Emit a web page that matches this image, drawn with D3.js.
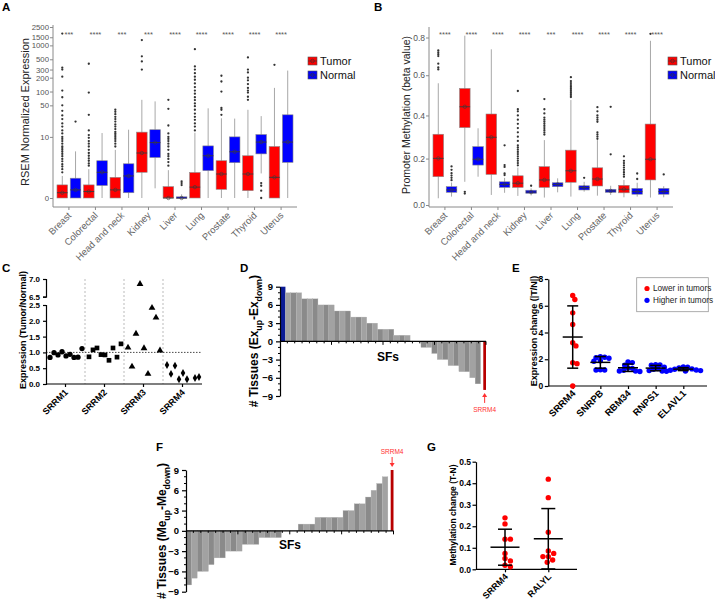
<!DOCTYPE html>
<html><head><meta charset="utf-8">
<script src="https://cdn.jsdelivr.net/npm/d3@7"></script>
<style>html,body{margin:0;padding:0;background:#fff}</style>
</head><body>
<script>
// ================= DATA =================
const tissues = ["Breast","Colorectal","Head and neck","Kidney","Liver","Lung","Prostate","Thyroid","Uterus"];
const boxGroups = ["Tumor","Normal"];

// Panel A  (RSEM expression)  [lower whisker, Q1, median, Q3, upper whisker]
const exprTumor = [
 [0,0,0.15,0.46,1.0],[0,0,0.19,0.46,1.6],[0,0,0.25,0.9,5],[0,1.3,4.2,12.8,66],[0,0,0,0.38,1.5],
 [0,0,0.36,1.28,12.4],[0,0.27,1.15,2.7,26],[0,0.22,1.15,3.6,40],[0,0,0.9,6.0,120]];
const exprNormal = [
 [0,0,0.25,0.84,4.6],[0,0.43,1.3,2.7,12.2],[0,0.15,1.0,2.25,14.5],[0.31,3.25,7.4,14.5,61],[0,0,0,0.03,0.1],
 [0,1.45,3.6,6.2,43],[0,2.4,4.5,10,25.6],[1.2,4.0,7.6,11.3,29],[0,2.45,7.6,31,285]];
const exprTumorOut = [
 [1.3,1.6,1.9,2.2,2.6,3,3.5,4,4.5,5,5.5,6,7,8,9,10,12,14,17,20,25,30,38,50,75,105,210,300,330,1800],
 [2,2.3,2.7,3.1,3.6,4.2,5,6,7,8,9.5,11,14,31,95,400],
 [6,7,8,9,10,11,12,13,15,17,19,22,25,28,32,36,40],
 [300,450,580,1300],
 [2,2.5,3,3.5,4,5,6,7,8,9,10,12,18,42,66],
 [14,17,20,24,28,33,40,48,55,65,75,90,105,125,150,180,210,250,300,350,830],
 [31,40,44,100,165,220],
 [66,77,95,105,120,145,175,200,260,300,550],
 [380]];
const exprNormalOut = [[22],[],[],[],[0.45,0.55,0.65],[],[],[0,0.22,0.42,0.55],[]];
const exprStars = ["***","****","***","***","****","****","****","****","****"];
const exprTicks = [0,10,50,100,200,300,500,1000,1500,2500];

// Panel B  (promoter methylation, beta value)
const methTumor = [
 [0.028,0.12,0.201,0.311,0.559],[0.098,0.342,0.442,0.533,0.81],[0.042,0.13,0.297,0.407,0.736],
 [0.038,0.074,0.092,0.124,0.16],[0.031,0.074,0.106,0.164,0.284],[0.035,0.096,0.146,0.238,0.475],
 [0.039,0.08,0.11,0.159,0.284],[0.032,0.051,0.066,0.083,0.106],[0.031,0.106,0.197,0.359,0.782]];
const methNormal = [
 [0.035,0.053,0.063,0.077,0.095],[0.12,0.171,0.197,0.254,0.339],[0.051,0.074,0.087,0.098,0.115],
 [0.04,0.049,0.054,0.062,0.07],[0.053,0.077,0.087,0.094,0.113],[0.056,0.063,0.073,0.081,0.098],
 [0.042,0.053,0.059,0.066,0.081],[0.035,0.045,0.056,0.07,0.094],[0.032,0.045,0.056,0.07,0.079]];
const methTumorOut = [
 [0.63,0.64,0.66,0.70,0.71,0.72,0.73],[0.048,0.055],[],
 [0.17,0.18,0.19,0.2,0.21,0.22,0.23,0.24,0.25,0.26,0.28,0.3,0.32,0.34,0.36,0.38,0.4,0.42,0.43,0.52],
 [0.31,0.32,0.33,0.34,0.35,0.36,0.37,0.38,0.39,0.41,0.43,0.48],
 [0.49,0.5,0.51,0.52,0.53,0.54,0.55,0.56,0.57,0.59],
 [0.29,0.3,0.31,0.32,0.37,0.38,0.39,0.4,0.42,0.44],
 [0.12,0.13,0.14,0.15,0.16,0.17,0.18,0.19,0.21],[0.82]];
const methNormalOut = [[0.105,0.115,0.125,0.135,0.15,0.165],[],[0.127,0.134,0.163,0.171,0.26],[0.081],[],[0.115],[0.219,0.442],[0.11,0.134],[0.13]];
const methStars = ["****","****","****","****","***","****","****","****","****"];
const methTicks = [0,0.2,0.4,0.6,0.8];

// Panel C  (Tumor/Normal ratio)
const srGenes = ["SRRM1","SRRM2","SRRM3","SRRM4"];
const srrm1 = [0.84,0.99,0.92,1.02,0.89,0.94,0.84,0.85,1.12];
const srrm2 = [0.86,1.08,1.14,0.93,0.92,0.75,1.14,0.85,1.27];
const srrm3 = [1.15,0.55,1.59,6.86,1.13,0.32,2.41,2.1,1.06];
const srrm4 = [0.6,0.32,0.58,0.15,0.35,0.15,null,0.19,0.22];
const cTicksLow = [0,0.5,1.0,1.5,2.0,2.5];
const cTicksHigh = [6.5,7.0];

// Panel D  (# tissues Ex_up - Ex_down per splicing factor, sorted)
const exprSF = [9,8,8,8,7,7,7,6,6,6,5,5,5,4,4,4,3,3,2,2,2,1,1,1,0,0,-1,-1,-2,-3,-3,-4,-4,-5,-5,-6,-7,-8];
// Panel F  (# tissues Me_up - Me_down per splicing factor, sorted)
const methSF = [-8,-7,-6,-6,-5,-4,-4,-3,-3,-3,-2,-2,-2,-1,-1,-1,-1,0,0,0,1,1,1,2,2,2,2,2,3,3,4,4,5,6,7,8,9];
const sfTicks = [-9,-6,-3,0,3,6,9];

// Panel E  (expression change |T/N|)
const eGenes = ["SRRM4","SNRPB","RBM34","RNPS1","ELAVL1"];
const eValues = [
 [6.77,6.47,5.47,4.6,3.0,3.23,1.74,1.67,0],
 [2.12,2.08,2.15,2.2,1.85,1.88,1.2,1.2,1.22],
 [1.75,1.8,1.55,1.35,1.32,1.12,1.08,1.12,1.18],
 [1.58,1.6,1.55,1.4,1.3,1.25,1.15,1.1,1.12],
 [1.42,1.4,1.35,1.28,1.25,1.2,1.15,1.12,1.18]];
const eLegend = ["Lower in tumors","Higher in tumors"];
const eTicks = [0,2,4,6,8];

// Panel G  (methylation change T-N)
const gGenes = ["SRRM4","RALYL"];
const gValues = [
 [0.239,0.211,0.14,0.14,0.074,0.05,0.039,0.019,0.012],
 [0.419,0.333,0.172,0.085,0.074,0.059,0.059,0.043,0.033]];
const gTicks = [0,0.1,0.2,0.3,0.4,0.5];

// ================= DRAWING =================
const FONT = "'Liberation Sans', Arial, Helvetica, sans-serif";
const svg = d3.select("body").append("svg").attr("width",715).attr("height",600)
  .attr("font-family",FONT).style("display","block");

function panelLabel(t,x,y){
  svg.append("text").attr("x",x).attr("y",y).attr("font-size",11.5).attr("font-weight","bold").attr("fill","#000").text(t);
}
function yTitle(parent,x,y,size,bold,parts,color){
  const t = parent.append("text").attr("transform",`translate(${x},${y}) rotate(-90)`)
    .attr("text-anchor","middle").attr("dy","0.35em").attr("font-size",size)
    .attr("font-weight",bold?"bold":"normal").attr("fill",color||"#000");
  let prevSub=false;
  parts.forEach(p=>{
    const ts = t.append("tspan").text(p.t);
    if(p.sub){ ts.attr("font-size",size*0.72); if(!prevSub) ts.attr("dy",size*0.28); }
    else if(prevSub) ts.attr("dy",-size*0.28);
    prevSub=!!p.sub;
  });
}
function rotLabels(sel,dx,dy){
  sel.selectAll("text").attr("x",0).attr("y",0).attr("dy",0)
    .attr("transform",`translate(${dx},${dy}) rotate(-45)`).attr("text-anchor","end");
}

// ---------- A & B : box plots ----------
function boxPanel(cfg){
  const g = svg.append("g");
  const tf = cfg.tf;
  const ylin = d3.scaleLinear().domain([tf(cfg.ticks[0]), tf(cfg.ticks[cfg.ticks.length-1])]).range(cfg.yRange);
  const y = v => ylin(tf(v));
  const x = d3.scaleBand().domain(tissues).range([cfg.x0,cfg.x1]).paddingInner(0).paddingOuter(0.1);
  const st = x.step(), bw = st*0.4;
  const grp = d3.scaleBand().domain(boxGroups).range([-st/2, st/2]);
  const col = d3.scaleOrdinal().domain(boxGroups).range(["#ff0000","#0000ff"]);
  const rows = [];
  boxGroups.forEach((gr,gi)=>tissues.forEach((t,i)=>rows.push({gr,t,s:cfg.stats[gi][i],out:cfg.outs[gi][i]})));
  const cx = d => x(d.t)+st/2+grp(d.gr)+grp.bandwidth()/2;

  g.append("line").attr("x1",cfg.x0).attr("x2",cfg.x0).attr("y1",cfg.yTop).attr("y2",cfg.yBot).attr("stroke","#8a8a8a");
  g.append("line").attr("x1",cfg.x0).attr("x2",cfg.x1).attr("y1",cfg.yBot).attr("y2",cfg.yBot).attr("stroke","#8a8a8a");
  const ay = g.append("g").attr("transform",`translate(${cfg.x0},0)`)
    .call(d3.axisLeft(ylin).tickValues(cfg.ticks.map(tf)).tickFormat((d,i)=>cfg.fmt(cfg.ticks[i])).tickSize(3).tickSizeOuter(0));
  ay.select(".domain").remove();
  ay.selectAll("line").attr("stroke","#8a8a8a");
  ay.selectAll("text").attr("fill","#555").attr("font-size",cfg.yTickSize).attr("font-family",FONT).attr("x",-4);
  const ax = g.append("g").attr("transform",`translate(0,${cfg.yBot})`)
    .call(d3.axisBottom(x).tickSize(3).tickSizeOuter(0));
  ax.select(".domain").remove();
  ax.selectAll("line").attr("stroke","#8a8a8a");
  ax.selectAll("text").attr("fill","#666").attr("font-size",9.5).attr("font-family",FONT);
  rotLabels(ax,3,9);

  g.selectAll(".wh").data(rows).join("line").attr("class","wh")
    .attr("x1",cx).attr("x2",cx).attr("y1",d=>y(d.s[0])).attr("y2",d=>y(d.s[4]))
    .attr("stroke","#a8a8a8").attr("stroke-width",1);
  g.selectAll(".bx").data(rows).join("rect").attr("class","bx")
    .attr("x",d=>cx(d)-bw/2).attr("width",bw)
    .attr("y",d=>y(d.s[3])).attr("height",d=>Math.max(1.5,y(d.s[1])-y(d.s[3])))
    .attr("fill",d=>col(d.gr)).attr("stroke","#8c8c8c").attr("stroke-width",0.6);
  g.selectAll(".md").data(rows).join("line").attr("class","md")
    .attr("x1",d=>cx(d)-bw/2).attr("x2",d=>cx(d)+bw/2).attr("y1",d=>y(d.s[2])).attr("y2",d=>y(d.s[2]))
    .attr("stroke","#3a3a3a").attr("stroke-width",0.9);
  g.selectAll(".mc").data(rows).join("circle").attr("class","mc")
    .attr("cx",cx).attr("cy",d=>y(d.s[2])).attr("r",1.7)
    .attr("fill","none").attr("stroke","#3a3a3a").attr("stroke-width",0.6);
  const outs = rows.flatMap(d=>d.out.map(v=>({x:cx(d),v})));
  g.selectAll(".ol").data(outs).join("circle").attr("class","ol")
    .attr("cx",d=>d.x).attr("cy",d=>y(d.v)).attr("r",1.15).attr("fill","#333");
  g.selectAll(".st").data(tissues).join("text").attr("class","st")
    .attr("x",d=>x(d)+st/2).attr("y",cfg.starY).attr("text-anchor","middle")
    .attr("font-size",7.5).attr("fill","#555").text((d,i)=>cfg.stars[i]);
  yTitle(g,cfg.titleX,cfg.titleY,cfg.titleSize,false,[{t:cfg.title}],"#222");
  const lg = g.selectAll(".lg").data(boxGroups).join("g").attr("class","lg")
    .attr("transform",(d,i)=>`translate(${cfg.legX},${cfg.legY+i*14})`);
  lg.append("rect").attr("x",0).attr("y",-4).attr("width",9).attr("height",8).attr("fill",d=>col(d)).attr("stroke","#555").attr("stroke-width",0.6);
  lg.append("line").attr("x1",0).attr("x2",9).attr("y1",0).attr("y2",0).attr("stroke","#333").attr("stroke-width",0.6);
  lg.append("circle").attr("cx",4.5).attr("cy",0).attr("r",1.8).attr("fill","none").attr("stroke","#333").attr("stroke-width",0.6);
  lg.append("text").attr("x",12).attr("y",0).attr("dy","0.36em").attr("font-size",11).attr("fill","#111").text(d=>d);
}

boxPanel({x0:53,x1:297,yTop:25,yBot:207,yRange:[198,27],tf:v=>Math.log10(v+0.5),yTickSize:7.8,
  ticks:exprTicks,fmt:d=>String(d),stats:[exprTumor,exprNormal],outs:[exprTumorOut,exprNormalOut],
  stars:exprStars,starY:37,title:"RSEM Normalized Expression",titleX:25,titleY:112,titleSize:11,
  legX:308,legY:61});
boxPanel({x0:429,x1:673,yTop:27,yBot:207,yRange:[205,37.5],tf:v=>Math.log(v+2.5),yTickSize:8.5,
  ticks:methTicks,fmt:d3.format(".1f"),stats:[methTumor,methNormal],outs:[methTumorOut,methNormalOut],
  stars:methStars,starY:37,title:"Promoter Methylation (beta value)",titleX:406,titleY:115,titleSize:10.5,
  legX:668,legY:61});
panelLabel("A",2,11);
panelLabel("B",374,11);

// ---------- C ----------
(function(){
  const g = svg.append("g");
  const x0=46,x1=202,yb=384;
  const xC = d3.scaleBand().domain(srGenes).range([x0,x1]);
  const slot = d3.scalePoint().domain(d3.range(9)).range([4,36]);
  const yL = d3.scaleLinear().domain([0,2.5]).range([384,305]);
  const yU = d3.scaleLinear().domain([6.5,7.0]).range([296.7,279]);
  const yC = v => v<=2.5 ? yL(v) : yU(v);
  const sym = d3.scaleOrdinal().domain(srGenes).range([d3.symbolCircle,d3.symbolSquare,d3.symbolTriangle,d3.symbolDiamond]);
  const symSize = d3.scaleOrdinal().domain(srGenes).range([22,22,20,18]);
  g.selectAll(".dv").data(srGenes.slice(1)).join("line").attr("class","dv")
    .attr("x1",d=>xC(d)).attr("x2",d=>xC(d)).attr("y1",279).attr("y2",yb)
    .attr("stroke","#aaa").attr("stroke-width",0.8).attr("stroke-dasharray","2,2");
  g.append("line").attr("x1",x0).attr("x2",x1).attr("y1",yL(1)).attr("y2",yL(1))
    .attr("stroke","#333").attr("stroke-width",0.9).attr("stroke-dasharray","1.5,1.5");
  const a1 = g.append("g").attr("transform",`translate(${x0},0)`)
    .call(d3.axisLeft(yL).tickValues(cTicksLow).tickFormat(d3.format(".1f")).tickSize(3).tickSizeOuter(3));
  const a2 = g.append("g").attr("transform",`translate(${x0},0)`)
    .call(d3.axisLeft(yU).tickValues(cTicksHigh).tickFormat(d3.format(".1f")).tickSize(3).tickSizeOuter(3));
  [a1,a2].forEach(a=>{a.select(".domain").attr("stroke","#000").attr("stroke-width",1.2);
    a.selectAll("line").attr("stroke","#000").attr("stroke-width",1.2);
    a.selectAll("text").attr("font-size",8).attr("font-weight","bold").attr("font-family",FONT).attr("fill","#000");});
  g.append("line").attr("x1",x0).attr("x2",x1).attr("y1",yb).attr("y2",yb).attr("stroke","#000").attr("stroke-width",1.2);
  const ax = g.append("g").attr("transform",`translate(0,${yb})`).call(d3.axisBottom(xC).tickSize(3).tickSizeOuter(0));
  ax.select(".domain").remove();
  ax.selectAll("line").attr("stroke","#000").attr("stroke-width",1.2);
  ax.selectAll("text").attr("font-size",9).attr("font-weight","bold").attr("font-family",FONT).attr("fill","#000");
  rotLabels(ax,3,9);
  const series = [srrm1,srrm2,srrm3,srrm4];
  const pts = srGenes.flatMap((gn,gi)=>series[gi].map((v,j)=>({gn,j,v})).filter(d=>d.v!==null));
  g.selectAll(".pt").data(pts).join("path").attr("class","pt")
    .attr("transform",d=>`translate(${xC(d.gn)+slot(d.j)},${yC(d.v)})`)
    .attr("d",d=>d3.symbol().type(sym(d.gn)).size(symSize(d.gn))())
    .attr("fill","#000");
  yTitle(g,22.5,330,9,true,[{t:"Expression (Tumor/Normal)"}]);
})();
panelLabel("C",2,272);

// ---------- D & F : sorted bar charts ----------
function sfPanel(cfg){
  const g = svg.append("g");
  const y = d3.scaleLinear().domain([-9,9]).range([cfg.yBot,cfg.yTop]);
  const x = d3.scaleBand().domain(d3.range(cfg.vals.length)).range([cfg.x0,cfg.x1]).padding(0);
  const bwid = i => i===cfg.redIdx ? x.bandwidth()*0.5 : x.bandwidth();
  const bx = i => i===cfg.redIdx ? x(i)+x.bandwidth()*0.5 : x(i);
  const fill = (d,i)=> i===cfg.blueIdx ? "#0a1a96" : (i===cfg.redIdx ? "#b80000" : (i%2 ? "#a2a2a2" : "#8a8a8a"));
  g.selectAll(".b").data(cfg.vals).join("rect").attr("class","b")
    .attr("x",(d,i)=>bx(i)).attr("width",(d,i)=>bwid(i))
    .attr("y",d=>y(Math.max(0,d))).attr("height",d=>Math.abs(y(d)-y(0)))
    .attr("fill",fill).attr("stroke",(d,i)=>(i===cfg.redIdx||i===cfg.blueIdx)?"none":"#b4b4b4").attr("stroke-width",0.3);
  const ay = g.append("g").attr("transform",`translate(${cfg.x0},0)`)
    .call(d3.axisLeft(y).tickValues(sfTicks).tickSize(4).tickSizeOuter(0));
  ay.select(".domain").attr("stroke","#000").attr("stroke-width",1.2);
  ay.selectAll("line").attr("stroke","#000").attr("stroke-width",1.2);
  ay.selectAll("text").attr("font-size",9.5).attr("font-weight","bold").attr("font-family",FONT).attr("fill","#000");
  const minor = d3.range(-9,10).filter(v=>v%3!==0);
  g.selectAll(".mn").data(minor).join("line").attr("class","mn")
    .attr("x1",cfg.x0-2).attr("x2",cfg.x0).attr("y1",d=>y(d)).attr("y2",d=>y(d)).attr("stroke","#000").attr("stroke-width",1);
  g.append("line").attr("x1",cfg.x0).attr("x2",cfg.x1).attr("y1",y(0)).attr("y2",y(0)).attr("stroke","#000").attr("stroke-width",1.2);
  const xt = d3.scaleLinear().domain([0,28]).range([cfg.x0,cfg.x1]);
  g.selectAll(".xt").data(d3.range(1,29)).join("line").attr("class","xt")
    .attr("x1",d=>xt(d)).attr("x2",d=>xt(d)).attr("y1",y(0)).attr("y2",d=>y(0)+(d%7===0?3.5:2))
    .attr("stroke","#000").attr("stroke-width",1);
  g.append("text").attr("x",cfg.sfX).attr("y",cfg.sfY).attr("text-anchor","middle")
    .attr("font-size",12).attr("font-weight","bold").text("SFs");
  yTitle(g,cfg.titleX,cfg.titleY,12,true,cfg.title);
  const rx = bx(cfg.redIdx)+bwid(cfg.redIdx)/2;
  const rv = cfg.vals[cfg.redIdx];
  const dir = rv<0 ? 1 : -1;
  const tip = y(rv) + dir*3;
  const tail = tip + dir*10;
  g.append("line").attr("x1",rx).attr("x2",rx).attr("y1",tail).attr("y2",tip+dir*3).attr("stroke","#ff3030").attr("stroke-width",1);
  g.append("path").attr("d",d3.line()([[rx-2.5,tip+dir*4],[rx+2.5,tip+dir*4],[rx,tip]])).attr("fill","#ff3030");
  g.append("text").attr("x",rx).attr("y",tail+(rv<0?9:-3)).attr("text-anchor","middle")
    .attr("font-size",6.5).attr("fill","#ff3030").text("SRRM4");
}
sfPanel({vals:exprSF,x0:280,x1:486,yTop:286.7,yBot:396,blueIdx:0,redIdx:exprSF.length-1,
  sfX:388,sfY:361,titleX:254,titleY:341,
  title:[{t:"# Tissues (Ex"},{t:"up",sub:true},{t:"-Ex"},{t:"down",sub:true},{t:")"}]});
sfPanel({vals:methSF,x0:186,x1:393.5,yTop:470,yBot:591.7,blueIdx:-1,redIdx:methSF.length-1,
  sfX:290,sfY:549,titleX:162,titleY:531,
  title:[{t:"# Tissues (Me"},{t:"up",sub:true},{t:"-Me"},{t:"down",sub:true},{t:")"}]});
panelLabel("D",240,272);
panelLabel("F",156,451);

// ---------- swarm helper ----------
function swarm(vals,yf,r,minD){
  const placed=[], res=new Array(vals.length);
  d3.range(vals.length).sort((a,b)=>d3.descending(vals[a],vals[b])).forEach(i=>{
    const yy=yf(vals[i]);
    for(let k=0;k<80;k++){
      const dx=(k%2===1?1:-1)*Math.ceil(k/2)*r*0.4;
      if(placed.every(p=>Math.hypot(p.x-dx,p.y-yy)>=minD)){placed.push({x:dx,y:yy});res[i]=dx;break;}
    }
  });
  return res;
}
function scatterPanel(cfg){
  const g = svg.append("g");
  const y = d3.scaleLinear().domain([cfg.ticks[0],cfg.ticks[cfg.ticks.length-1]]).range([cfg.yBot,cfg.yTop]);
  const x = d3.scalePoint().domain(cfg.genes).range(cfg.xr);
  const ay = g.append("g").attr("transform",`translate(${cfg.x0},0)`)
    .call(d3.axisLeft(y).tickValues(cfg.ticks).tickFormat(cfg.fmt).tickSize(3.5).tickPadding(1.5).tickSizeOuter(0));
  ay.select(".domain").attr("stroke","#000").attr("stroke-width",1.2);
  ay.selectAll("line").attr("stroke","#000").attr("stroke-width",1.2);
  ay.selectAll("text").attr("font-size",cfg.tickSize).attr("font-weight","bold").attr("font-family",FONT).attr("fill","#000");
  g.append("line").attr("x1",cfg.x0).attr("x2",cfg.x1).attr("y1",cfg.yBot).attr("y2",cfg.yBot).attr("stroke","#000").attr("stroke-width",1.2);
  const ax = g.append("g").attr("transform",`translate(0,${cfg.yBot})`).call(d3.axisBottom(x).tickSize(3).tickSizeOuter(0));
  ax.select(".domain").remove();
  ax.selectAll("line").attr("stroke","#000").attr("stroke-width",1.2);
  ax.selectAll("text").attr("font-size",cfg.labSize).attr("font-weight","bold").attr("font-family",FONT).attr("fill","#000");
  rotLabels(ax,3,8);
  const r=2.7;
  cfg.genes.forEach((gn,gi)=>{
    const vals=cfg.values[gi];
    const dxs=swarm(vals,y,r,cfg.minD);
    const cx=x(gn);
    const m=d3.mean(vals), sd=d3.deviation(vals);
    const col=cfg.color(gi);
    g.selectAll(`.p${gi}`).data(vals).join("circle").attr("class",`p${gi}`)
      .attr("cx",(d,i)=>cx+dxs[i]).attr("cy",d=>y(d)).attr("r",r).attr("fill",col);
    const eb=g.append("g").attr("stroke","#000").attr("stroke-width",1.5).attr("fill","none");
    eb.append("line").attr("x1",cx-cfg.meanW/2).attr("x2",cx+cfg.meanW/2).attr("y1",y(m)).attr("y2",y(m));
    eb.append("line").attr("x1",cx).attr("x2",cx).attr("y1",y(m-sd)).attr("y2",y(m+sd));
    [m-sd,m+sd].forEach(v=>eb.append("line").attr("x1",cx-cfg.capW/2).attr("x2",cx+cfg.capW/2).attr("y1",y(v)).attr("y2",y(v)));
  });
  yTitle(g,cfg.titleX,cfg.titleY,cfg.titleSize,true,[{t:cfg.title}]);
  return g;
}
// ---------- E ----------
const gE = scatterPanel({genes:eGenes,values:eValues,ticks:eTicks,fmt:d3.format("d"),tickSize:8.5,labSize:9.5,minD:4.2,
  x0:548.3,x1:707,xr:[572.7,683.3],yBot:386,yTop:279,meanW:20,capW:11,
  color:i=>i===0?"#ff0000":"#0000ff",title:"Expression change (|T/N|)",titleX:533.5,titleY:331,titleSize:9});
gE.append("rect").attr("x",636.7).attr("y",277.7).attr("width",71.6).attr("height",34).attr("fill","#fff").attr("stroke","#999").attr("stroke-width",0.8);
const leg = gE.selectAll(".le").data(eLegend).join("g").attr("class","le")
  .attr("transform",(d,i)=>`translate(647,${288.5+i*11.8})`);
leg.append("circle").attr("r",2.6).attr("fill",(d,i)=>i===0?"#ff0000":"#0000ff");
leg.append("text").attr("x",6).attr("dy","0.35em").attr("font-size",8.2).attr("fill","#222").text(d=>d);
panelLabel("E",512,272);

// ---------- G ----------
scatterPanel({genes:gGenes,values:gValues,ticks:gTicks,fmt:d3.format(".1f"),tickSize:8.5,labSize:9,minD:5,
  x0:476,x1:577,xr:[505,548.3],yBot:569.3,yTop:461.7,meanW:29,capW:14,
  color:()=>"#ff0000",title:"Methylation change (T-N)",titleX:453.5,titleY:515,titleSize:8.5});
panelLabel("G",427,451);
</script>
</body></html>
